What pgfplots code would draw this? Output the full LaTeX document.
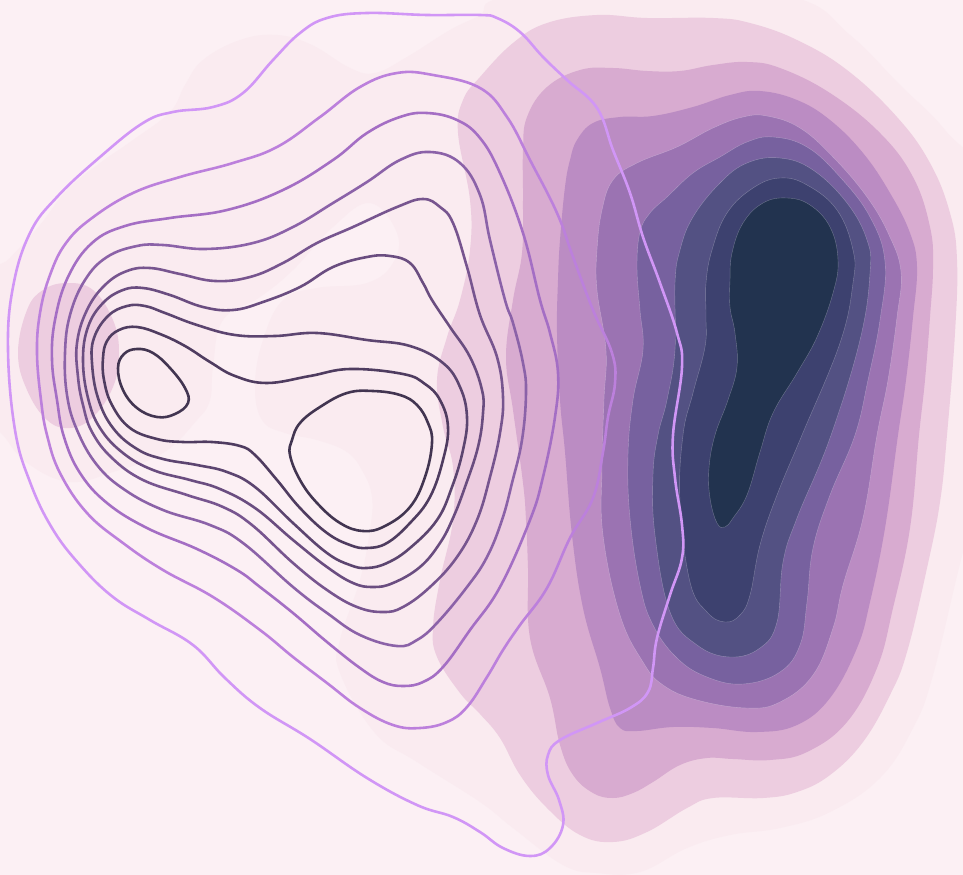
\documentclass[border=0pt]{standalone}
\usepackage{pgfplots}
\pgfplotsset{compat=1.18}
\definecolor{bg}{HTML}{FCF0F4}
\definecolor{f1}{HTML}{FAEBF0}
\definecolor{f2}{HTML}{EDCDE0}
\definecolor{f3}{HTML}{D8ABD0}
\definecolor{f4}{HTML}{BB8CC3}
\definecolor{f5}{HTML}{9B73B2}
\definecolor{f6}{HTML}{77619F}
\definecolor{f7}{HTML}{535183}
\definecolor{f8}{HTML}{3D416F}
\definecolor{f9}{HTML}{22334F}
\definecolor{c1}{HTML}{D196F6}
\definecolor{c2}{HTML}{BC80DC}
\definecolor{c3}{HTML}{A46EC4}
\definecolor{c4}{HTML}{8B62A8}
\definecolor{c5}{HTML}{77558F}
\definecolor{c6}{HTML}{6A4D80}
\definecolor{c7}{HTML}{5C4570}
\definecolor{c8}{HTML}{4F3C60}
\definecolor{c9}{HTML}{423551}
\pgfplotsset{
  band/.style={smooth cycle, tension=0.68, no marks, draw=none, fill=#1},
  edged/.style={smooth cycle, tension=0.68, no marks, fill=#1, draw=white, draw opacity=0.3, line width=0.4pt},
  iso/.style={smooth cycle, tension=0.68, no marks, draw=#1, fill=none, line width=2.6pt},
}
\begin{document}
\begin{tikzpicture}
\begin{axis}[
  scale only axis, width=963bp, height=875bp,
  xmin=0, xmax=963, ymin=0, ymax=875, y dir=reverse,
  hide axis,
]
% background
\addplot[fill=bg, draw=none, no marks] coordinates {(0,0) (963,0) (963,875) (0,875)} \closedcycle;

% filled levels
\addplot[band=f1] coordinates {
  (-15,285) (10,258) (40,225) (67,190) (100,163) (133,140) (170,112) (185,85) (203,60) (240,40)
  (277,35) (312,45) (350,68) (375,73) (407,57) (450,30) (480,15) (505,-3) (650,-20) (793,-3)
  (850,35) (900,85) (945,130) (985,190) (1000,350) (985,480) (963,552) (933,675) (913,728) (880,778)
  (830,812) (780,828) (730,835) (687,848) (640,872) (597,873) (563,865) (513,828) (480,802) (417,762)
  (375,733) (340,673) (340,640) (360,580) (370,530) (372,497) (363,472) (347,452) (317,440) (285,433)
  (262,420) (255,385) (263,340) (283,300) (317,288) (367,283) (393,263) (397,233) (370,203) (333,227)
  (293,270) (260,297) (223,320) (213,367) (210,400) (197,420) (163,453) (113,472) (70,482) (30,465)
  (7,440) (-15,400)
};
\addplot[band=f2] coordinates {
  (480,77) (513,43) (547,23) (597,15) (647,18) (713,18) (750,23) (797,40) (847,70) (897,117)
  (930,163) (950,213) (957,260) (955,333) (947,435) (940,502) (927,568) (907,652) (890,695) (863,742)
  (830,775) (797,792) (763,798) (713,798) (687,808) (647,832) (613,842) (580,835) (547,808) (520,775)
  (500,738) (480,714) (460,693) (437,657) (433,627) (440,580) (453,520) (453,467) (443,427) (437,380)
  (447,337) (460,300) (470,250) (470,200) (458,133) (463,100)
};
\addplot[band=f2] coordinates {
  (18,353) (27,310) (43,290) (67,283) (93,290) (113,320) (119,353) (113,387) (93,417) (70,428) (47,420) (27,390)
};
\addplot[band=f3] coordinates {
  (523,150) (527,117) (547,87) (580,70) (613,68) (647,71) (680,71) (713,65) (747,62) (780,68)
  (830,93) (880,133) (913,177) (930,227) (933,267) (930,317) (925,380) (919,435) (910,528) (893,608) (877,668)
  (847,722) (807,752) (770,760) (733,759) (707,758) (680,765) (653,782) (633,793) (613,798) (593,793)
  (573,775) (560,745) (550,698) (530,638) (528,568) (526,520) (523,483) (513,410) (506,357) (513,300) (522,253) (523,200)
};
\addplot[band=f4] coordinates {
  (570,160) (577,140) (593,123) (620,117) (653,116) (693,107) (730,95) (760,91) (797,100) (830,120)
  (863,153) (890,193) (910,233) (917,267) (913,317) (906,380) (898,435) (885,528) (870,602) (857,648) (830,698)
  (797,725) (757,732) (713,728) (673,727) (637,731) (620,728) (610,708) (600,668) (583,608) (572,535)
  (565,452) (560,400) (557,333) (558,280) (560,240) (565,187)
};
\addplot[edged=f5] coordinates {
  (597,250) (602,210) (613,180) (637,163) (677,147) (713,128) (743,117) (767,116) (800,128) (833,157)
  (867,197) (889,235) (901,272) (897,317) (888,380) (877,435) (863,518) (843,585) (833,628) (813,675) (780,702)
  (747,708) (697,700) (663,685) (643,662) (620,615) (603,535) (602,468) (604,400) (606,350) (597,290)
};
\addplot[edged=f6] coordinates {
  (637,267) (640,232) (650,213) (667,197) (693,173) (720,157) (747,142) (773,137) (807,147) (840,177) (870,217)
  (885,262) (880,320) (868,380) (855,435) (830,495) (813,548) (807,602) (800,645) (780,672) (743,684) (707,677)
  (677,658) (653,625) (640,585) (630,518) (628,455) (633,400) (643,350) (640,310)
};
\addplot[edged=f7] coordinates {
  (675,283) (680,250) (693,217) (720,183) (747,163) (780,158) (813,170) (847,203) (867,240) (870,273)
  (860,340) (830,438) (797,518) (783,562) (777,622) (760,648) (730,657) (697,645) (670,612) (655,535)
  (653,475) (658,435) (667,400) (675,350)
};
\addplot[edged=f8] coordinates {
  (706,283) (712,250) (727,213) (753,188) (780,178) (807,185) (837,210) (853,250) (853,283) (840,343)
  (802,435) (777,495) (760,545) (750,595) (740,615) (725,622) (707,612) (690,582) (680,502) (683,435)
  (693,393) (705,347) (706,317)
};
\addplot[edged=f9] coordinates {
  (730,280) (732,253) (743,223) (763,203) (787,198) (810,205) (830,227) (838,260) (833,293) (817,337)
  (797,373) (773,413) (760,452) (747,495) (733,518) (725,527) (717,523) (710,498) (709,468) (715,435)
  (728,400) (737,367) (735,333) (730,307)
};

% contour lines
\addplot[iso=c1] coordinates {
  (480,15) (427,15) (367,13) (327,18) (300,33) (273,60) (243,93) (213,107) (173,112) (143,123)
  (100,157) (57,197) (30,233) (13,287) (8,350) (15,430) (30,482) (52,528) (80,565) (113,597)
  (150,620) (193,645) (225,678) (260,708) (310,739) (367,778) (417,805) (453,817) (480,832) (503,848) (530,856)
  (550,848) (563,825) (559,800) (548,775) (548,755) (560,740) (597,723) (630,708) (648,692) (653,668)
  (657,638) (670,595) (682,558) (682,525) (675,478) (673,435) (682,367) (677,333) (660,283) (643,237)
  (630,193) (613,150) (597,108) (567,80) (543,57) (520,32) (497,18)
};
\addplot[iso=c2] coordinates {
  (480,88) (433,75) (397,73) (360,87) (320,117) (277,147) (233,163) (180,177) (133,193)
  (92,218) (66,243) (50,275) (40,313) (37,353) (41,400) (47,435) (60,473) (87,513) (123,543)
  (163,570) (213,597) (260,630) (293,657) (327,683) (360,708) (393,725) (420,728) (447,722) (467,707)
  (487,677) (503,650) (520,625) (547,588) (570,538) (593,498) (603,452) (608,417) (615,383) (612,353)
  (593,310) (573,257) (557,213) (530,160) (507,117)
};
\addplot[iso=c3] coordinates {
  (480,138) (457,120) (427,113) (400,117) (367,133) (333,160) (283,190) (227,210) (170,218)
  (125,226) (92,243) (68,277) (55,320) (52,360) (57,400) (64,437) (80,473) (107,503) (147,528)
  (197,549) (237,570) (260,587) (293,613) (327,642) (360,668) (383,682) (403,686) (423,682) (443,667)
  (470,630) (500,587) (530,520) (543,477) (555,417) (558,373) (550,333) (540,300) (523,233) (500,173)
};
\addplot[iso=c4] coordinates {
  (480,195) (460,163) (430,152) (400,160) (367,182) (333,203) (293,227) (253,243) (205,249)
  (163,245) (137,246) (107,257) (85,280) (70,315) (65,353) (67,395) (77,430) (97,465) (125,490)
  (163,510) (210,525) (243,543) (293,587) (327,613) (360,635) (397,646) (417,640)
  (437,623) (467,587) (487,557) (502,520) (512,483) (522,440) (526,393) (523,363) (513,323) (505,300) (490,240)
};
\addplot[iso=c5] coordinates {
  (480,315) (467,267) (453,223) (440,207) (423,199) (397,207) (353,227) (317,243) (283,263) (250,277)
  (215,281) (180,274) (150,268) (127,271) (105,285) (87,310) (77,343) (78,377) (83,405)
  (92,432) (112,458) (143,480) (187,495) (223,507) (252,525) (293,563) (327,590) (357,607)
  (383,612) (403,607) (430,587) (457,557) (477,520) (490,477) (500,433) (503,397) (497,357)
};
\addplot[iso=c6] coordinates {
  (390,256) (410,263) (423,283) (432,300) (450,327) (470,357) (482,390) (483,413) (478,447) (465,487)
  (453,518) (440,543) (420,567) (393,583) (373,587) (353,583) (327,567) (293,540) (255,508)
  (220,489) (190,480) (153,470) (123,453) (100,428) (88,398) (83,360) (88,327) (103,303)
  (123,290) (143,288) (170,295) (203,307) (233,310) (263,302) (300,287) (333,267) (367,257)
};
\addplot[iso=c7] coordinates {
  (145,306) (165,313) (197,325) (235,335) (275,336) (317,333) (367,340) (410,346) (443,363)
  (460,387) (467,417) (463,450) (452,487) (437,520) (410,548) (387,563) (367,568) (350,565) (327,553)
  (293,523) (255,487) (227,472) (197,465) (163,459) (137,449) (113,428) (98,398) (92,363)
  (94,338) (108,316) (127,306)
};
\addplot[iso=c8] coordinates {
  (137,327) (160,334) (185,346) (210,362) (235,376) (267,383) (310,376) (350,369) (403,374)
  (425,384) (440,400) (448,427) (443,460) (430,497) (410,523) (387,543) (367,548) (350,545) (327,533)
  (300,508) (277,480) (255,455) (240,446) (212,442) (183,442) (157,439) (130,428) (112,405) (104,380)
  (103,358) (107,341) (119,330)
};
\addplot[iso=c9] coordinates {
  (292,440) (300,423) (320,407) (347,393) (373,391) (400,395) (417,405) (428,423) (432,443) (425,477)
  (410,507) (385,526) (363,531) (340,523) (317,503) (300,480) (290,455)
};
\addplot[iso=c9] coordinates {
  (118,368) (124,354) (137,349) (153,353) (170,368) (185,388) (188,403) (175,414) (157,417) (137,408) (123,390)
};
\end{axis}
\end{tikzpicture}
\end{document}
